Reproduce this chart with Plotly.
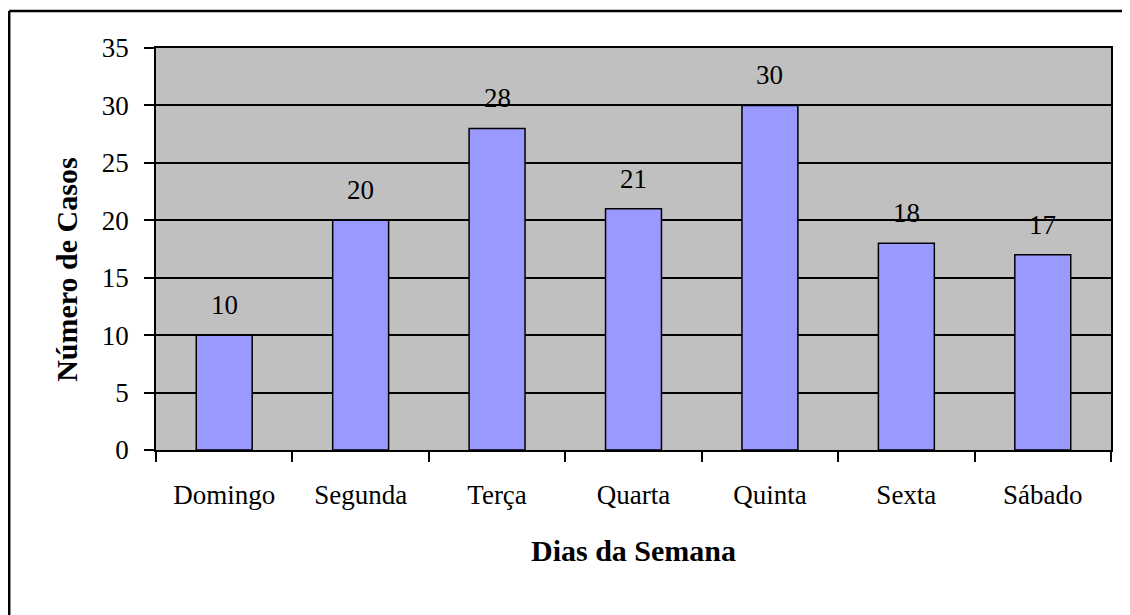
import plotly.graph_objects as go

categories = ["Domingo", "Segunda", "Terça", "Quarta", "Quinta", "Sexta", "Sábado"]
casos = [10, 20, 28, 21, 30, 18, 17]
y_ticks = [0, 5, 10, 15, 20, 25, 30, 35]

OFF = 8  # browser body margin
W, H = 1130 - OFF, 615 - OFF
L, R, T, B = 156 - OFF, 1111 - OFF, 48 - OFF, 450.3 - OFF
FONT = "'Liberation Serif', 'Times New Roman', serif"

def px_x(px):
    return (px - OFF - L) / (R - L)

def px_y(py):
    return (B - (py - OFF)) / (B - T)

fig = go.Figure()
fig.add_trace(go.Bar(
    x=categories, y=casos, width=0.41,
    marker=dict(color="#9999FF", line=dict(color="black", width=1.5)),
    hoverinfo="x+y",
))

for c, v in zip(categories, casos):
    fig.add_annotation(x=c, y=v, text=str(v), showarrow=False,
                       yanchor="middle", yshift=30,
                       font=dict(family=FONT, size=27, color="black"))

fig.add_annotation(xref="paper", yref="paper", x=px_x(67), y=px_y(270),
                   text="<b>Número de Casos</b>", showarrow=False, textangle=-90,
                   xanchor="center", yanchor="middle",
                   font=dict(family=FONT, size=30, color="black"))
fig.add_annotation(xref="paper", yref="paper", x=0.5, y=px_y(551),
                   text="<b>Dias da Semana</b>", showarrow=False,
                   xanchor="center", yanchor="middle",
                   font=dict(family=FONT, size=30, color="black"))

# outer chart frame (left and top edges visible, right/bottom run off the page)
fig.add_shape(type="line", xref="paper", yref="paper",
              x0=px_x(9.2), x1=px_x(9.2), y0=px_y(11), y1=px_y(640),
              line=dict(color="black", width=2.5), layer="above")
fig.add_shape(type="line", xref="paper", yref="paper",
              x0=px_x(9.2), x1=px_x(1150), y0=px_y(11), y1=px_y(11),
              line=dict(color="black", width=2.5), layer="above")

fig.update_layout(
    width=W, height=H,
    margin=dict(l=L, r=W - R, t=T, b=H - B, pad=0),
    paper_bgcolor="white", plot_bgcolor="#C0C0C0",
    showlegend=False, bargap=0.59,
    font=dict(family=FONT, size=27, color="black"),
)
fig.update_xaxes(
    type="category", tickson="boundaries", ticks="outside", ticklen=10,
    tickwidth=1.5, tickcolor="black", showline=True, linecolor="black",
    linewidth=1.5, mirror=True, showgrid=False, ticklabelstandoff=20,
    tickfont=dict(family=FONT, size=27, color="black"),
)
fig.update_yaxes(
    range=[0, 35], tickvals=y_ticks, ticks="outside", ticklen=10,
    tickwidth=1.5, tickcolor="black", showline=True, linecolor="black",
    linewidth=1.5, mirror=True, showgrid=True, gridcolor="black", gridwidth=1.5,
    zeroline=False, ticklabelstandoff=10,
    tickfont=dict(family=FONT, size=27, color="black"),
)

fig.write_html("out.html", config={"displayModeBar": False})
